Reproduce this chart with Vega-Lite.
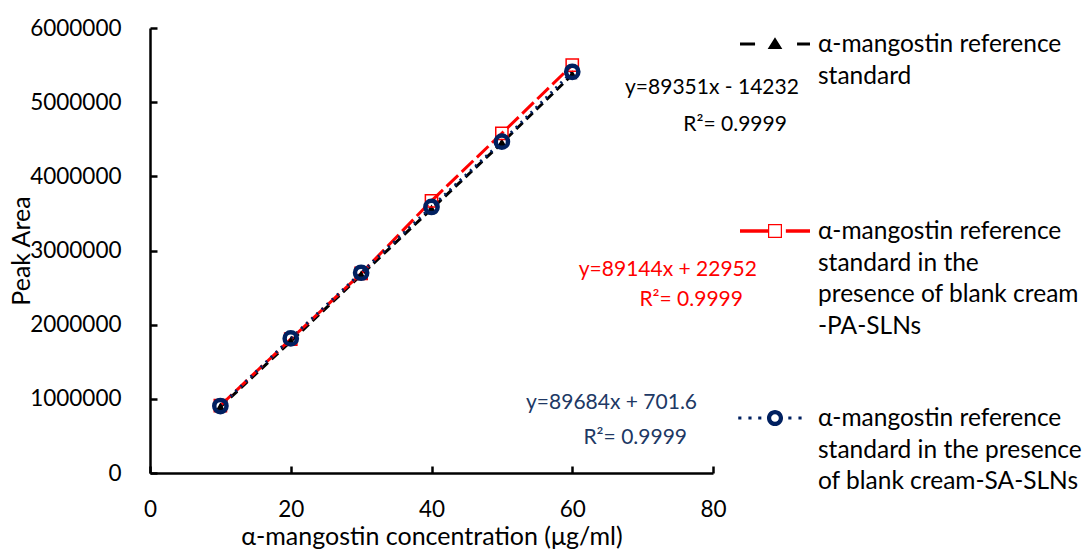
{
  "$schema": "https://vega.github.io/schema/vega-lite/v6.json",
  "width": 563,
  "height": 445,
  "autosize": {"type": "none"},
  "padding": {"left": 150, "top": 28, "right": 375, "bottom": 76},
  "background": "white",
  "config": {
    "font": "Lato",
    "view": {"stroke": null},
    "style": {"guide-label": {"lineHeight": 31.5}},
    "axis": {
      "grid": false,
      "labelFlush": false,
      "domainColor": "black",
      "domainWidth": 2.5,
      "tickColor": "black",
      "tickWidth": 2.5,
      "tickSize": -7,
      "labelFont": "Lato",
      "labelFontSize": 22.5,
      "labelColor": "black",
      "titleFont": "Lato",
      "titleFontSize": 25,
      "titleFontWeight": "normal",
      "titleColor": "black"
    },
    "legend": {
      "orient": "none",
      "legendX": 590,
      "legendY": -19,
      "padding": 0,
      "symbolSize": 4900,
      "symbolStrokeWidth": 0,
      "labelFont": "Lato",
      "labelFontSize": 24.5,
      "labelColor": "black",
      "labelLimit": 500,
      "labelOffset": 8,
      "labelBaseline": "alphabetic",
      "rowPadding": 45
    }
  },
  "datasets": {
    "pts": [
      {"series": "std", "x": 10, "y": 890000},
      {"series": "std", "x": 20, "y": 1775000},
      {"series": "std", "x": 30, "y": 2670000},
      {"series": "std", "x": 40, "y": 3560000},
      {"series": "std", "x": 50, "y": 4450000},
      {"series": "std", "x": 60, "y": 5370000},
      {"series": "pa", "x": 10, "y": 910000},
      {"series": "pa", "x": 20, "y": 1805000},
      {"series": "pa", "x": 30, "y": 2690000},
      {"series": "pa", "x": 40, "y": 3670000},
      {"series": "pa", "x": 50, "y": 4580000},
      {"series": "pa", "x": 60, "y": 5500000},
      {"series": "sa", "x": 10, "y": 903000},
      {"series": "sa", "x": 20, "y": 1815000},
      {"series": "sa", "x": 30, "y": 2700000},
      {"series": "sa", "x": 40, "y": 3587000},
      {"series": "sa", "x": 50, "y": 4467000},
      {"series": "sa", "x": 60, "y": 5410000}
    ]
  },
  "layer": [
    {
      "data": {"name": "pts"},
      "mark": {"type": "line", "strokeWidth": 3, "strokeCap": "butt"},
      "encoding": {
        "x": {
          "field": "x", "type": "quantitative",
          "scale": {"domain": [0, 80]},
          "axis": {"values": [0, 20, 40, 60, 80], "title": "α-mangostin concentration (μg/ml)", "labelPadding": 32, "titlePadding": 4}
        },
        "y": {
          "field": "y", "type": "quantitative",
          "scale": {"domain": [0, 6000000]},
          "axis": {"values": [0, 1000000, 2000000, 3000000, 4000000, 5000000, 6000000], "format": "d", "title": "Peak Area", "labelPadding": 36, "titlePadding": -5}
        },
        "color": {
          "field": "series", "type": "nominal",
          "scale": {"domain": ["std", "pa", "sa"], "range": ["#000000", "#ff0000", "#002060"]},
          "legend": {
            "title": null,
            "labelExpr": "datum.label == 'std' ? ['α-mangostin reference', 'standard', '', ''] : datum.label == 'pa' ? ['α-mangostin reference', 'standard  in the', 'presence of blank cream', '-PA-SLNs'] : ['α-mangostin reference', 'standard in the presence', 'of blank cream-SA-SLNs', '']",
            "encode": {"labels": {"update": {"dy": {"value": 8}, "lineHeight": {"value": 31.5}}}}
          }
        },
        "strokeDash": {
          "field": "series", "type": "nominal",
          "scale": {"domain": ["std", "pa", "sa"], "range": [[9, 5], [16, 5], [2, 5]]},
          "legend": null
        }
      }
    },
    {
      "data": {"name": "pts"},
      "transform": [{"filter": "datum.series == 'std'"}],
      "mark": {"type": "point", "shape": "triangle-up", "filled": true, "color": "#000000", "size": 110, "opacity": 1},
      "encoding": {"x": {"field": "x", "type": "quantitative"}, "y": {"field": "y", "type": "quantitative"}}
    },
    {
      "data": {"name": "pts"},
      "transform": [{"filter": "datum.series == 'pa'"}],
      "mark": {"type": "point", "shape": "square", "filled": false, "color": "#ff0000", "strokeWidth": 1.5, "size": 150, "opacity": 1},
      "encoding": {"x": {"field": "x", "type": "quantitative"}, "y": {"field": "y", "type": "quantitative"}}
    },
    {
      "data": {"name": "pts"},
      "transform": [{"filter": "datum.series == 'sa'"}],
      "mark": {"type": "point", "shape": "circle", "filled": false, "color": "#002060", "strokeWidth": 4.5, "size": 150, "opacity": 1},
      "encoding": {"x": {"field": "x", "type": "quantitative"}, "y": {"field": "y", "type": "quantitative"}}
    },
    {
      "data": {"name": "pts"},
      "transform": [{"filter": "false"}],
      "mark": {"type": "point", "filled": true, "opacity": 1, "strokeWidth": 0},
      "encoding": {
        "x": {"field": "x", "type": "quantitative"},
        "y": {"field": "y", "type": "quantitative"},
        "color": {
          "field": "series", "type": "nominal",
          "scale": {"domain": ["std", "pa", "sa"], "range": ["#000000", "#ff0000", "#002060"]},
          "legend": {
            "title": null,
            "labelExpr": "datum.label == 'std' ? ['α-mangostin reference', 'standard', '', ''] : datum.label == 'pa' ? ['α-mangostin reference', 'standard  in the', 'presence of blank cream', '-PA-SLNs'] : ['α-mangostin reference', 'standard in the presence', 'of blank cream-SA-SLNs', '']",
            "encode": {"labels": {"update": {"dy": {"value": 8}, "lineHeight": {"value": 31.5}}}}
          }
        },
        "shape": {
          "field": "series", "type": "nominal",
          "scale": {"domain": ["std", "pa", "sa"], "range": [
            "M-1,-0.045H-0.57V0.045H-1Z M0.63,-0.045H1V0.045H0.63Z M0,-0.19L0.21,0.14H-0.21Z",
            "M-1,-0.05H-0.2V0.05H-1Z M0.31,-0.05H1V0.05H0.31Z M-0.2,-0.2H0.2V0.2H-0.2Z M-0.165,-0.165V0.165H0.165V-0.165Z",
            "M-1.05,-0.045H-0.96V0.045H-1.05Z M-0.76,-0.045H-0.67V0.045H-0.76Z M-0.48,-0.045H-0.39V0.045H-0.48Z M0.38,-0.045H0.47V0.045H0.38Z M0.67,-0.045H0.76V0.045H0.67Z M-0.23,0A0.23,0.23 0 1,0 0.23,0A0.23,0.23 0 1,0 -0.23,0Z M-0.11,0A0.11,0.11 0 1,1 0.11,0A0.11,0.11 0 1,1 -0.11,0Z"
          ]},
          "legend": {
            "title": null,
            "labelExpr": "datum.label == 'std' ? ['α-mangostin reference', 'standard', '', ''] : datum.label == 'pa' ? ['α-mangostin reference', 'standard  in the', 'presence of blank cream', '-PA-SLNs'] : ['α-mangostin reference', 'standard in the presence', 'of blank cream-SA-SLNs', '']",
            "encode": {"labels": {"update": {"dy": {"value": 8}, "lineHeight": {"value": 31.5}}}}
          }
        }
      }
    },
    {
      "data": {"values": [
        {"x": 92.2, "y": 5191000, "t": "y=89351x - 14232"},
        {"x": 90.5, "y": 4692000, "t": "R²= 0.9999"}
      ]},
      "mark": {"type": "text", "align": "right", "baseline": "middle", "font": "Lato", "fontSize": 21, "color": "#000000"},
      "encoding": {"x": {"field": "x", "type": "quantitative"}, "y": {"field": "y", "type": "quantitative"}, "text": {"field": "t"}}
    },
    {
      "data": {"values": [
        {"x": 86.25, "y": 2737000, "t": "y=89144x + 22952"},
        {"x": 84.26, "y": 2333000, "t": "R²= 0.9999"}
      ]},
      "mark": {"type": "text", "align": "right", "baseline": "middle", "font": "Lato", "fontSize": 21, "color": "#ff0000"},
      "encoding": {"x": {"field": "x", "type": "quantitative"}, "y": {"field": "y", "type": "quantitative"}, "text": {"field": "t"}}
    },
    {
      "data": {"values": [
        {"x": 77.73, "y": 943800, "t": "y=89684x + 701.6"},
        {"x": 76.31, "y": 471900, "t": "R²= 0.9999"}
      ]},
      "mark": {"type": "text", "align": "right", "baseline": "middle", "font": "Lato", "fontSize": 21, "color": "#203864"},
      "encoding": {"x": {"field": "x", "type": "quantitative"}, "y": {"field": "y", "type": "quantitative"}, "text": {"field": "t"}}
    }
  ]
}
